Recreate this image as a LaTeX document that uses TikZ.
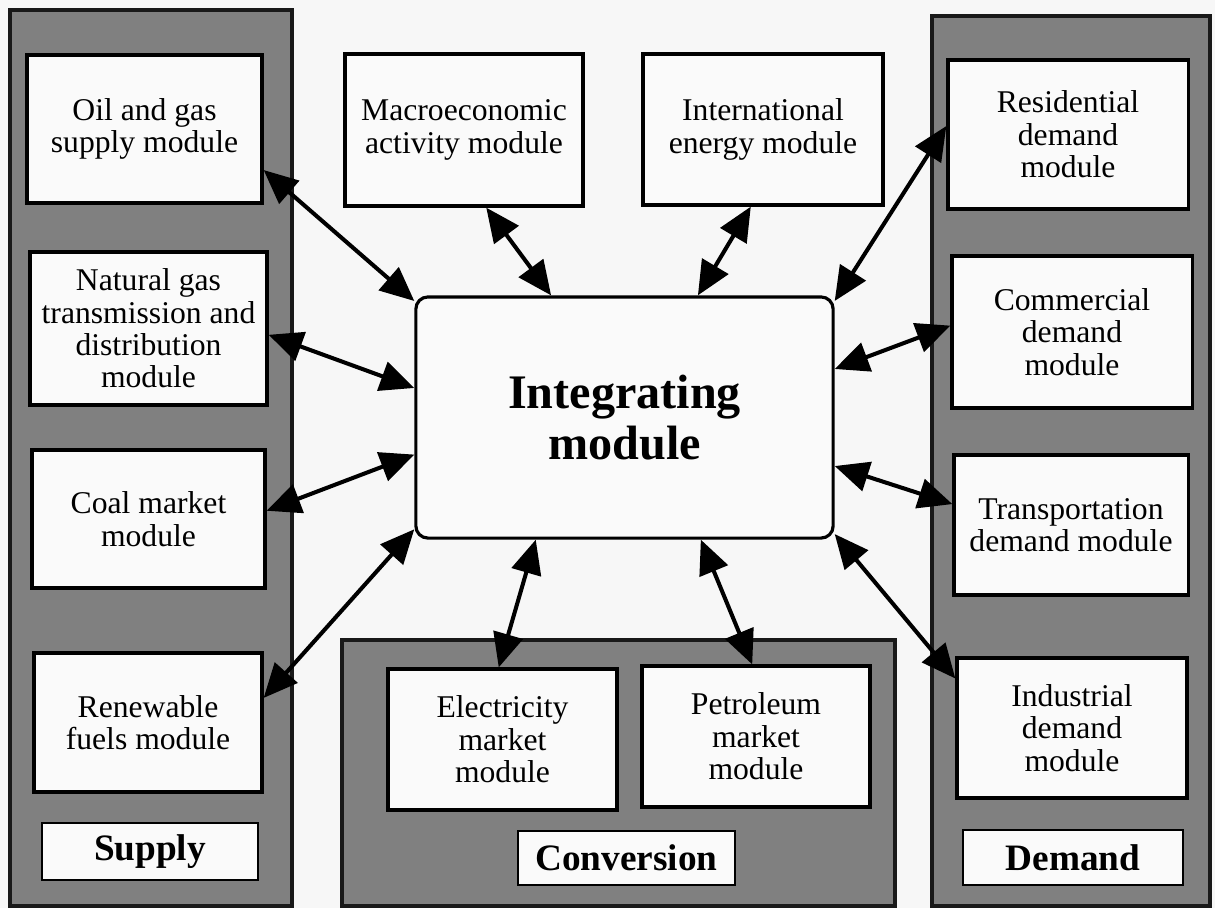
\documentclass[tikz,border=0pt]{standalone}
\usepackage{fontspec}
\setmainfont{Liberation Serif}
\usetikzlibrary{arrows.meta}

\begin{document}
\begin{tikzpicture}[x=0.01cm, y=-0.01cm,
    panel/.style={draw=black!90, line width=0.9pt, fill=black!50},
    modbox/.style={rectangle, draw, line width=0.9pt, fill=black!2, align=center,
        inner sep=1pt, font=\fontsize{9}{9.2}\selectfont},
    tagbox/.style={rectangle, draw, line width=0.7pt, fill=black!2,
        font=\fontsize{10.6}{12}\selectfont\bfseries},
    hubbox/.style={rectangle, draw, rounded corners=0.12cm, line width=0.9pt, fill=black!2,
        align=center, font=\fontsize{13.7}{14.6}\selectfont\bfseries},
    link/.style={line width=1.15pt,
        {Triangle[length=0.34cm,width=0.3cm]}-{Triangle[length=0.34cm,width=0.3cm]}}]

        \fill[black!3] (0,0) rectangle (1215,908);
        \useasboundingbox (0,0) rectangle (1215,908);

        % grey panels
        \draw[panel] (10,10) rectangle (292,906);
        \draw[panel] (932,16) rectangle (1210,906);
        \draw[panel] (342,640) rectangle (895,906);

        % supply side
        \node[modbox, minimum width=2.35cm, minimum height=1.48cm] (oil) at (144.5,129) {Oil and gas\\supply module};
        \node[modbox, minimum width=2.37cm, minimum height=1.53cm] (natgas) at (148.5,328.5) {Natural gas\\transmission and\\distribution\\module};
        \node[modbox, minimum width=2.33cm, minimum height=1.38cm] (coal) at (148.5,519) {Coal market\\module};
        \node[modbox, minimum width=2.28cm, minimum height=1.39cm] (renew) at (148,722.5) {Renewable\\fuels module};
        \node[tagbox, minimum width=2.16cm, minimum height=0.53cm] (supply) at (150,851.5) {Supply};

        % top
        \node[modbox, minimum width=2.38cm, minimum height=1.52cm] (macro) at (464,130) {Macroeconomic\\activity module};
        \node[modbox, minimum width=2.40cm, minimum height=1.51cm] (intl) at (763,129.5) {International\\energy module};

        % demand side
        \node[modbox, minimum width=2.40cm, minimum height=1.49cm] (resid) at (1068,134.5) {Residential\\demand\\module};
        \node[modbox, minimum width=2.40cm, minimum height=1.52cm] (comm) at (1072,332) {Commercial\\demand\\module};
        \node[modbox, minimum width=2.34cm, minimum height=1.40cm] (transp) at (1071,525) {Transportation\\demand module};
        \node[modbox, minimum width=2.30cm, minimum height=1.40cm] (indus) at (1072,728) {Industrial\\demand\\module};
        \node[tagbox, minimum width=2.20cm, minimum height=0.55cm] (demand) at (1073,857.5) {Demand};

        % conversion
        \node[modbox, minimum width=2.29cm, minimum height=1.41cm] (elec) at (502.5,739.5) {Electricity\\market\\module};
        \node[modbox, minimum width=2.28cm, minimum height=1.41cm] (petro) at (756,736.5) {Petroleum\\market\\module};
        \node[tagbox, minimum width=2.17cm, minimum height=0.54cm] (conv) at (626.5,858) {Conversion};

        % centre
        \node[hubbox, minimum width=4.17cm, minimum height=2.41cm] (hub) at (624.5,417.5) {Integrating\\module};

        % links
        \draw[link] (oil.-19) -- (hub.151);
        \draw[link] (natgas.-3) -- (hub.172);
        \draw[link] (coal.4) -- (hub.190);
        \draw[link] (renew.12) -- (hub.208.6);
        \draw[link] (macro.-74.5) -- (hub.121);
        \draw[link] (intl.-99) -- (hub.59);
        \draw[link] (resid.176.5) -- (hub.29.5);
        \draw[link] (comm.177) -- (hub.13.4);
        \draw[link] (transp.170) -- (hub.-13.4);
        \draw[link] (indus.157) -- (hub.-29.3);
        \draw[link] (elec.93.6) -- (hub.-126);
        \draw[link] (petro.93) -- (hub.-58.3);
    \end{tikzpicture}
\end{document}
